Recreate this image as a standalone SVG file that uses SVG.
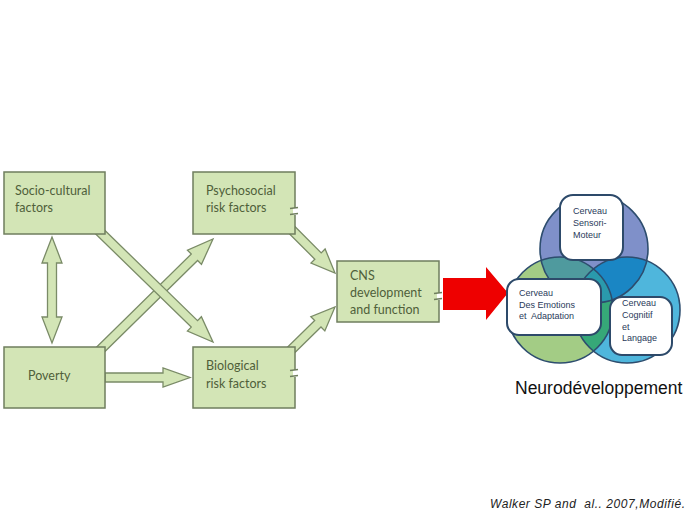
<svg xmlns="http://www.w3.org/2000/svg" width="689" height="517" viewBox="0 0 689 517">
<defs>
<style>
.box{fill:#d3e5b6;stroke:#6f7e5e;stroke-width:1.5}
.bt{font-family:Lato,"Open Sans",sans-serif;font-size:12.5px;fill:#4f5f3a}
.arr{fill:#d3e5b6;stroke:#7a8b67;stroke-width:1.3;stroke-linejoin:miter}
.tick{stroke:#6f7e5e;stroke-width:1.3;fill:none}
.circ{fill:none;stroke:#2d4d6e;stroke-width:1.6}
.wb{fill:#ffffff;stroke:#2d4a6a;stroke-width:2}
.ct{font-family:"Liberation Sans",Arial,sans-serif;font-size:9px;fill:#2a3a5a}
</style>
<clipPath id="cTop"><circle cx="594" cy="249" r="54"/></clipPath>
<clipPath id="cLeft"><circle cx="560" cy="310" r="53"/></clipPath>
<clipPath id="cRight"><circle cx="627" cy="310" r="53"/></clipPath>
</defs>
<rect width="689" height="517" fill="#ffffff"/>

<g id="connectors">
<polygon class="arr" points="52,237 62,263 56.5,263 56.5,317 62,317 52,343 42,317 47.5,317 47.5,263 42,263"/>
<polygon class="arr" points="100.15,356.21 197.61,260.44 201.47,264.36 213,239 187.45,250.10 191.31,254.02 93.85,349.79"/>
<polygon class="arr" points="100.14,225.78 197.54,320.68 201.38,316.74 213,342 187.42,331.06 191.26,327.12 93.86,232.22"/>
<polygon class="arr" points="105,373 163,373 163,368 190,377.5 163,387 163,382 105,382"/>
<polygon class="arr" points="290.18,221.82 321.21,252.85 325.10,248.96 335,273 310.96,263.10 314.85,259.21 283.82,228.18"/>
<polygon class="arr" points="291.15,356.22 320.99,327.0 324.83,330.93 335,307 310.85,316.63 314.69,320.56 284.85,349.78"/>
<polygon id="red-arrow" points="443,278 486,278 486,267 508,293 486,320 486,310 443,310" fill="#ee0000"/>
</g>

<g id="socio-cultural">
<rect class="box" x="4" y="172" width="101" height="62"/>
<text class="bt" x="15" y="195">Socio-cultural</text>
<text class="bt" x="15" y="212">factors</text>
</g>
<g id="poverty">
<rect class="box" x="4" y="347" width="101" height="61"/>
<text class="bt" x="28" y="380">Poverty</text>
</g>
<g id="psychosocial">
<rect class="box" x="193" y="172" width="102" height="62"/>
<text class="bt" x="206" y="195">Psychosocial</text>
<text class="bt" x="206" y="212">risk factors</text>
<rect x="293" y="208" width="5" height="7" fill="#ffffff"/>
<path class="tick" d="M290,208.5 L298,207.5 M290,214.5 L298,213.5"/>
</g>
<g id="biological">
<rect class="box" x="193" y="347" width="102" height="61"/>
<text class="bt" x="206" y="370">Biological</text>
<text class="bt" x="206" y="388">risk factors</text>
<rect x="293" y="370" width="5" height="7" fill="#ffffff"/>
<path class="tick" d="M290,370.5 L298,369.5 M290,376.5 L298,375.5"/>
</g>
<g id="cns">
<rect class="box" x="337" y="261" width="102" height="61"/>
<text class="bt" x="350" y="280">CNS</text>
<text class="bt" x="350" y="297">development</text>
<text class="bt" x="350" y="314">and function</text>
<rect x="437" y="293" width="5" height="7" fill="#ffffff"/>
<path class="tick" d="M434,293.5 L442,292.5 M434,299.5 L442,298.5"/>
</g>

<g id="venn">
<circle cx="594" cy="249" r="54" fill="#7f90c9"/>
<circle cx="560" cy="310" r="53" fill="#a3cc85"/>
<circle cx="627" cy="310" r="53" fill="#4fb6dc"/>
<circle cx="560" cy="310" r="53" fill="#4f9a9e" clip-path="url(#cTop)"/>
<circle cx="627" cy="310" r="53" fill="#1a86c4" clip-path="url(#cTop)"/>
<circle cx="627" cy="310" r="53" fill="#36a878" clip-path="url(#cLeft)"/>
<g clip-path="url(#cTop)"><circle cx="627" cy="310" r="53" fill="#2a9aac" clip-path="url(#cLeft)"/></g>
<circle class="circ" cx="594" cy="249" r="54"/>
<circle class="circ" cx="560" cy="310" r="53"/>
<circle class="circ" cx="627" cy="310" r="53"/>
</g>
<g id="sensori">
<rect class="wb" x="560" y="195" width="63" height="65" rx="13"/>
<text class="ct" x="573" y="214">Cerveau</text>
<text class="ct" x="573" y="226">Sensori-</text>
<text class="ct" x="573" y="238">Moteur</text>
</g>
<g id="emotions">
<rect class="wb" x="507" y="279" width="94" height="56" rx="12"/>
<text class="ct" x="519" y="296" font-size="9.2px">Cerveau</text>
<text class="ct" x="519" y="307.5" font-size="9.2px">Des Emotions</text>
<text class="ct" x="519" y="319" font-size="9.2px" style="white-space:pre">et  Adaptation</text>
</g>
<g id="cognitif">
<rect class="wb" x="610" y="297" width="62" height="58" rx="12"/>
<text class="ct" x="622" y="306" font-size="8.5px">Cerveau</text>
<text class="ct" x="622" y="318" font-size="8.5px">Cognitif</text>
<text class="ct" x="622" y="329.5" font-size="8.5px">et</text>
<text class="ct" x="622" y="341" font-size="8.5px">Langage</text>
</g>
<text x="515" y="394" font-family="Liberation Sans, Arial, sans-serif" font-size="17.5px" fill="#111111">Neurodéveloppement</text>
<text x="490" y="508" font-family="Liberation Sans, Arial, sans-serif" font-size="12px" font-style="italic" fill="#222222" style="white-space:pre" textLength="195">Walker SP and  al.. 2007,Modifié.</text>
</svg>
